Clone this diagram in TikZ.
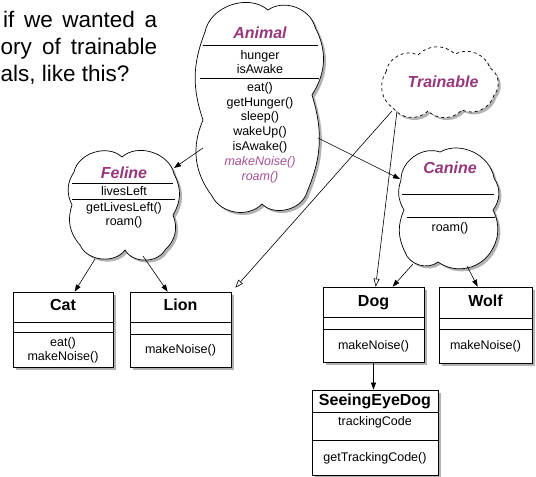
\documentclass[tikz,border=0pt]{standalone}
\usepackage{fontspec}
\setmainfont{Liberation Sans}
\usetikzlibrary{arrows.meta,shadows,calc}
\definecolor{ttl}{RGB}{150,55,125}
\definecolor{mth}{RGB}{165,80,145}
\begin{document}
\begin{tikzpicture}[x=1pt,y=-1pt,
  shd/.style={drop shadow={shadow xshift=2.5pt,shadow yshift=-2.5pt,fill=black,opacity=0.3}},
  cloudline/.style={draw=black,line width=0.7pt,fill=white,shd},
  dashcloud/.style={draw=black,line width=0.7pt,fill=white,dashed,shd},
  umlbox/.style 2 args={draw,line width=0.7pt,fill=white,minimum width=#1,minimum height=#2,inner sep=0pt,shd},
  lbl/.style={font=\fontsize{12.5}{14}\selectfont,inner sep=0pt,text height=9pt,text depth=2.5pt},
  mlbl/.style={lbl,font=\fontsize{12.5}{14}\selectfont\itshape,text=mth},
  ttlc/.style={font=\fontsize{16}{18}\selectfont\bfseries\itshape,text=ttl,inner sep=0pt,text height=11.5pt,text depth=0pt},
  ttlb/.style={font=\fontsize{16}{18}\selectfont\bfseries,inner sep=0pt,text height=11.5pt,text depth=3pt},
  toptext/.style={font=\fontsize{22.5}{27}\selectfont,inner sep=0pt,anchor=base west},
  divl/.style={line width=0.7pt},
  arr/.style={line width=0.6pt,-{Triangle[length=7pt,width=5pt]}},
  oarr/.style={line width=0.6pt,-{Triangle[open,length=8pt,width=6pt]}}
]
\useasboundingbox (0,0) rectangle (536,477);

% top-left question text (justified lines)
\node[toptext] (q1) at (3,27) {\makebox[154pt][s]{if we wanted a}};
\node[toptext] (q2) at (0.5,54) {\makebox[156.5pt][s]{ory of trainable}};
\node[toptext] (q3) at (0.5,81) {als, like this?};

% Animal cloud
\draw[cloudline] (205,32) to[bend left=60] (268,10) to[bend left=55] (315,27)
  to[bend left=30] (312,95) to[bend left=20] (307,192) to[bend left=60] (262,204)
  to[bend left=55] (212,196) to[bend left=30] (203,120) to[bend left=20] (205,32) -- cycle;
\node[ttlc] (animal) at (260,33) {Animal};
\draw[divl] (203,45) -- (318,45);
\node[lbl] (a1) at (260,56) {hunger};
\node[lbl] (a2) at (260,70) {isAwake};
\draw[divl] (200,78) -- (319,78);
\node[lbl] (a3) at (260,88) {eat()};
\node[lbl] (a4) at (260,103) {getHunger()};
\node[lbl] (a5) at (260,117) {sleep()};
\node[lbl] (a6) at (260,132) {wakeUp()};
\node[lbl] (a7) at (260,147) {isAwake()};
\node[mlbl] (a8) at (260,162) {makeNoise()};
\node[mlbl] (a9) at (260,177) {roam()};

% Trainable cloud
\draw[dashcloud] (386,72) to[bend left=55] (418,55) to[bend left=45] (455,54)
  to[bend left=50] (490,68) to[bend left=50] (494,95) to[bend left=50] (462,110)
  to[bend left=45] (428,111) to[bend left=50] (393,108) to[bend left=45] (386,72) -- cycle;
\node[ttlc] (trainable) at (443,82) {Trainable};

% Feline cloud
\draw[cloudline] (74,172) to[bend left=60] (122,157) to[bend left=60] (174,174)
  to[bend left=30] (173,215) to[bend left=35] (165,250) to[bend left=60] (125,250)
  to[bend left=60] (80,245) to[bend left=30] (72,205) to[bend left=30] (74,172) -- cycle;
\node[ttlc] (feline) at (124,173) {Feline};
\draw[divl] (72,183) -- (173,183);
\node[lbl] (f1) at (124,192) {livesLeft};
\draw[divl] (72,199) -- (175,199);
\node[lbl] (f2) at (124,208) {getLivesLeft()};
\node[lbl] (f3) at (124,222) {roam()};

% Canine cloud
\draw[cloudline] (401,180) to[bend left=55] (440,152) to[bend left=55] (494,178)
  to[bend left=35] (493,210) to[bend left=30] (490,253) to[bend left=45] (438,262)
  to[bend left=55] (405,252) to[bend left=25] (404,210) to[bend left=25] (401,180) -- cycle;
\node[ttlc] (canine) at (450,168) {Canine};
\draw[divl] (402,194) -- (494,194);
\draw[divl] (407,217) -- (495,217);
\node[lbl] (c1) at (450,228) {roam()};

% class boxes
\node[umlbox={100pt}{75pt}] (cat) at (63,329.5) {};
\draw[divl] (cat.west |- 0,322) -- (cat.east |- 0,322);
\draw[divl] (cat.west |- 0,332) -- (cat.east |- 0,332);
\node[ttlb] (catT) at (63,306) {Cat};
\node[lbl] (cat1) at (63,343) {eat()};
\node[lbl] (cat2) at (63,357) {makeNoise()};

\node[umlbox={101pt}{75pt}] (lion) at (180.5,329.5) {};
\draw[divl] (lion.west |- 0,322) -- (lion.east |- 0,322);
\draw[divl] (lion.west |- 0,334) -- (lion.east |- 0,334);
\node[ttlb] (lionT) at (180.5,306) {Lion};
\node[lbl] (lion1) at (180.5,350) {makeNoise()};

\node[umlbox={101pt}{75pt}] (dog) at (373.5,324.5) {};
\draw[divl] (dog.west |- 0,317) -- (dog.east |- 0,317);
\draw[divl] (dog.west |- 0,329) -- (dog.east |- 0,329);
\node[ttlb] (dogT) at (373.5,302) {Dog};
\node[lbl] (dog1) at (373.5,346) {makeNoise()};

\node[umlbox={93pt}{76pt}] (wolf) at (485.5,325) {};
\draw[divl] (wolf.west |- 0,318) -- (wolf.east |- 0,318);
\draw[divl] (wolf.west |- 0,329) -- (wolf.east |- 0,329);
\node[ttlb] (wolfT) at (485.5,302) {Wolf};
\node[lbl] (wolf1) at (485.5,346) {makeNoise()};

\node[umlbox={126pt}{85pt}] (sed) at (375,432.5) {};
\draw[divl] (sed.west |- 0,412) -- (sed.east |- 0,412);
\draw[divl] (sed.west |- 0,440) -- (sed.east |- 0,440);
\node[ttlb] (sedT) at (375,401) {SeeingEyeDog};
\node[lbl] (sed1) at (375,422) {trackingCode};
\node[lbl] (sed2) at (375,458) {getTrackingCode()};

% connector end points on the clouds
\coordinate (animalW) at (203,148);
\coordinate (felineNE) at (174,168);
\coordinate (animalE) at (318,138);
\coordinate (canineW) at (400,179);
\coordinate (trainA) at (392,111);
\coordinate (trainB) at (397,111);
\coordinate (felineS1) at (95,259);
\coordinate (felineS2) at (143,256);
\coordinate (canineS1) at (413,264);
\coordinate (canineS2) at (467,266);

% connectors
\draw[arr] (animalW) -- (felineNE);
\draw[arr] (animalE) -- (canineW);
\draw[oarr] (trainA) -- ([shift={(4pt,4pt)}]lion.north east);
\draw[oarr] (trainB) -- ([xshift=53pt]dog.north west);
\draw[arr] (felineS1) -- ([xshift=62pt]cat.north west);
\draw[arr] (felineS2) -- ([xshift=38pt]lion.north west);
\draw[arr] (canineS1) -- ([xshift=70pt]dog.north west);
\draw[arr] (canineS2) -- ([xshift=39pt]wolf.north west);
\draw[arr] (dog.south) -- (dog.south |- sed.north);
\end{tikzpicture}
\end{document}
